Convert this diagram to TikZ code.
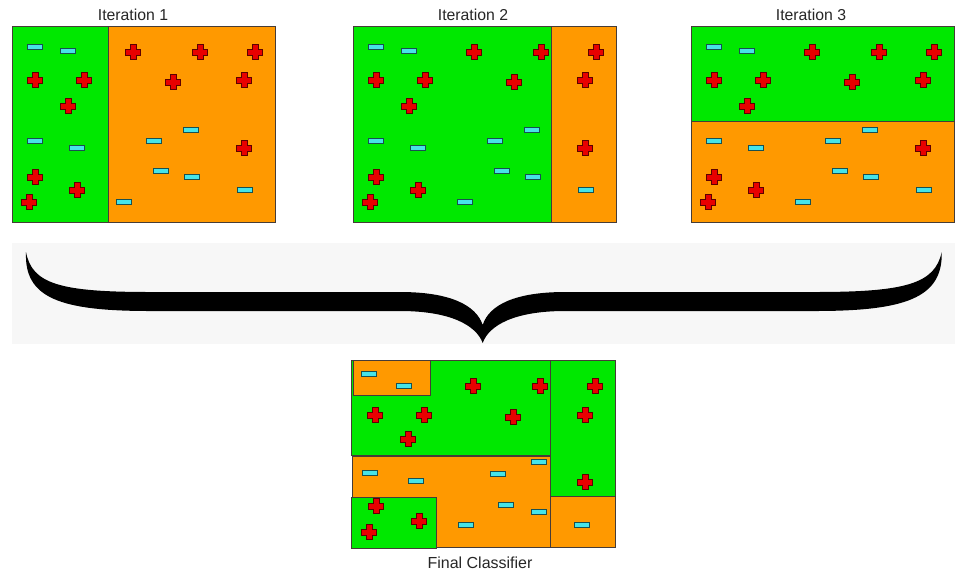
\documentclass[tikz,border=0pt]{standalone}
\usepackage{fontspec}
\setmainfont{Liberation Sans}
\definecolor{leafgreen}{RGB}{0,232,0}
\definecolor{leaforange}{RGB}{255,153,0}
\definecolor{plusred}{RGB}{232,0,0}
\definecolor{minuscyan}{RGB}{70,228,232}
\definecolor{bandgray}{RGB}{247,247,247}
\definecolor{framegray}{RGB}{70,60,55}
\tikzset{
  region/.style={draw=framegray, line width=0.8pt},
  plusmark/.pic={\filldraw[fill=plusred, draw=plusred!40!black, line width=0.7pt]
    (-3,-7.4) -- (3,-7.4) -- (3,-3) -- (7.4,-3) -- (7.4,3) -- (3,3) --
    (3,7.4) -- (-3,7.4) -- (-3,3) -- (-7.4,3) -- (-7.4,-3) -- (-3,-3) -- cycle;},
  minusmark/.pic={\filldraw[fill=minuscyan, draw=minuscyan!35!black, line width=0.7pt]
    (-7.5,-2.4) rectangle (7.5,2.4);}
}
% same sample in every iteration, relative to the panel corner
\newcommand{\samplepoints}{%
  \foreach \x/\y in {23/21,56/25,23/115,65/122,179/104,142/115,149/145,180/151,233/164,112/176}
    \pic at (\x,\y) {minusmark};
  \foreach \x/\y in {121/26,188/26,243/26,23/54,72/54,161/56,232/54,56/80,232/122,23/151,65/164,17/176}
    \pic at (\x,\y) {plusmark};}
\begin{document}
\begin{tikzpicture}[x=1pt, y=-1pt, font=\fontsize{15.8}{18}\selectfont]
  \useasboundingbox (0,0) rectangle (955,574);
  % iterations
  \node[text=black!85] (iter1) at (133,15) {Iteration 1};
  \node[text=black!85] (iter2) at (473,15) {Iteration 2};
  \node[text=black!85] (iter3) at (811,15) {Iteration 3};
  \begin{scope}[shift={(12,26)}]
    \draw[region, fill=leafgreen] (0,0) rectangle (96,196);
    \draw[region, fill=leaforange] (96,0) rectangle (263,196);
    \samplepoints
  \end{scope}
  \begin{scope}[shift={(353,26)}]
    \draw[region, fill=leafgreen] (0,0) rectangle (198,196);
    \draw[region, fill=leaforange] (198,0) rectangle (263,196);
    \samplepoints
  \end{scope}
  \begin{scope}[shift={(691,26)}]
    \draw[region, fill=leafgreen] (0,0) rectangle (263,95);
    \draw[region, fill=leaforange] (0,95) rectangle (263,196);
    \samplepoints
  \end{scope}
  % brace
  \fill[bandgray] (12,243) rectangle (955,344);
  \fill[black] (26,252) .. controls (32,284) and (60,292) .. (150,292) -- (400,292)
    .. controls (450,292) and (476,305) .. (482.7,325)
    .. controls (489,305) and (515,292) .. (565,292) -- (815,292)
    .. controls (905,292) and (935,284) .. (941.7,252)
    .. controls (943,298) and (905,311) .. (815,311) -- (565,311)
    .. controls (515,311) and (489,325) .. (482.7,343)
    .. controls (476,325) and (450,311) .. (400,311) -- (150,311)
    .. controls (60,311) and (24,298) .. (26,252) -- cycle;
  % final classifier
  \draw[region, fill=leafgreen] (351,360) rectangle (550,455);
  \draw[region, fill=leaforange] (353,360) rectangle (430,395);
  \draw[region, fill=leafgreen] (550,360) rectangle (615,496);
  \draw[region, fill=leaforange] (550,496) rectangle (615,547);
  \draw[region, fill=leaforange] (352,456) rectangle (550,547);
  \draw[region, fill=leafgreen] (351,497) rectangle (436,548);
  \foreach \x/\y in {369/374,404/386,370/473,416/481,498/474,539/462,506/505,539/512,466/525,582/525}
    \pic at (\x,\y) {minusmark};
  \foreach \x/\y in {473/386,540/386,595/386,375/415,424/415,513/417,585/415,408/439,585/482,376/506,369/532,419/521}
    \pic at (\x,\y) {plusmark};
  \node[text=black!85, font=\fontsize{16}{19}\selectfont] (final) at (480,563) {Final Classifier};
\end{tikzpicture}
\end{document}
